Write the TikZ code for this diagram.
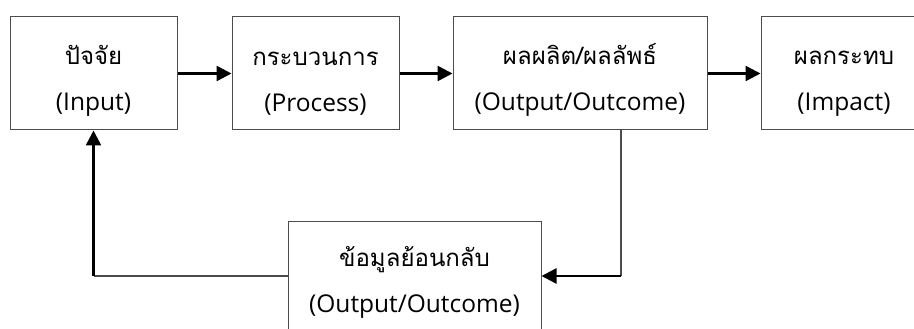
\documentclass[tikz,border=0pt]{standalone}
\usepackage{fontspec}
\setmainfont{Open Sans}
\newfontfamily\thaifont[Script=Thai]{Loma}
\usetikzlibrary{arrows.meta}
\definecolor{frame}{rgb}{.3,.3,.3}
\newcommand{\thai}[1]{{\thaifont\fontsize{24pt}{44pt}\selectfont\rule{0pt}{33pt}#1}}
\tikzset{
    font={\fontsize{24.5pt}{46pt}\selectfont},
    box/.style={draw=frame, line width=1pt, minimum height=113pt,
        align=center, inner sep=0pt},
    flow/.style={line width=2.5pt, -{Triangle[length=15pt,width=15pt]}},
    link/.style={draw=frame, line width=1.2pt},
    }

\begin{document}
\begin{tikzpicture}
    [x=1pt, y=1pt]
    \useasboundingbox (0,0) rectangle (914,329);
    \clip (0,0) rectangle (914,329);
    \node[box, minimum width=167pt] (in) at (93.5,255.5)
        {\thai{ปัจจัย}\\(Input)};
    \node[box, minimum width=167pt] (proc) at (315.5,255.5)
        {\thai{กระบวนการ}\\(Process)};
    \node[box, minimum width=254pt] (out) at (580,255.5)
        {\thai{ผลผลิต/ผลลัพธ์}\\(Output/Outcome)};
    \node[box, minimum width=166pt] (imp) at (844,255.5)
        {\thai{ผลกระทบ}\\(Impact)};
    \node[box, minimum width=253pt, minimum height=108pt] (fb) at (414.5,53)
        {\thai{ข้อมูลย้อนกลับ}\\(Output/Outcome)};
    % arrows
    \draw[flow] (in) -- (proc);
    \draw[flow] (proc) -- (out);
    \draw[flow] (out) -- (imp);
    % feedback loop
    \coordinate (drop) at ([xshift=41pt]out.south);
    \coordinate (turn) at (drop |- fb.east);
    \coordinate (rise) at (in.south |- fb.west);
    \draw[link] (drop) -- (turn);
    \draw[flow] (turn) -- (fb.east);
    \draw[link] (fb.west) -- (rise);
    \draw[flow] (rise) -- (in.south);
\end{tikzpicture}
\end{document}
